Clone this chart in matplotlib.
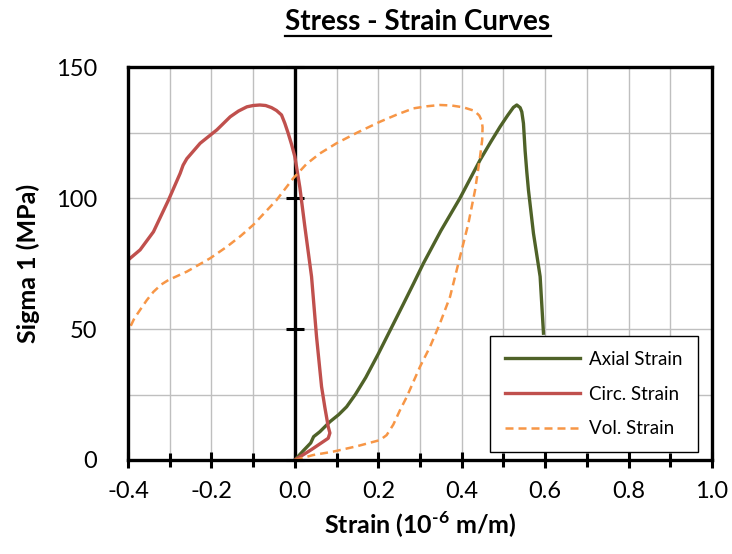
import matplotlib
matplotlib.use("Agg")
import matplotlib.pyplot as plt
from matplotlib.ticker import MultipleLocator
from matplotlib.lines import Line2D

plt.rcParams['font.family'] = ['Lato', 'DejaVu Sans']
plt.rcParams['mathtext.fontset'] = 'custom'
plt.rcParams['mathtext.rm'] = 'Lato'
plt.rcParams['mathtext.bf'] = 'Lato:bold'

# Axial strain (10^-6 m/m) vs Sigma 1 (MPa)
axial_strain = [0.0, 0.02, 0.038, 0.045, 0.06, 0.084, 0.105, 0.124, 0.145,
                0.17, 0.2, 0.23, 0.26, 0.285, 0.308, 0.35, 0.396, 0.444,
                0.47, 0.492, 0.51, 0.524, 0.532, 0.54, 0.544, 0.548, 0.552,
                0.556, 0.56, 0.572, 0.588, 0.596]
axial_stress = [0.0, 3.5, 6.5, 8.9, 10.8, 14.6, 17.3, 20.3, 25.0,
                31.5, 40.5, 50.0, 59.5, 67.5, 75.0, 87.5, 100.0, 114.5,
                121.5, 127.2, 131.5, 134.6, 135.5, 134.5, 132.9, 128.5, 118.0,
                110.0, 103.0, 86.5, 70.0, 48.4]

# Circumferential strain
circ_strain = [0.0, 0.04, 0.08, 0.084, 0.08, 0.072, 0.064, 0.052, 0.04, 0.024,
               0.012, 0.0, -0.008, -0.016, -0.024, -0.032, -0.044, -0.056,
               -0.07, -0.084, -0.1, -0.115, -0.135, -0.155, -0.187, -0.227,
               -0.259, -0.268, -0.275, -0.303, -0.339, -0.371, -0.4]
circ_stress = [0.0, 4.0, 8.3, 10.3, 12.7, 20.0, 28.0, 47.0, 70.0, 89.0,
               104.0, 115.8, 120.5, 124.7, 128.5, 131.7, 133.4, 134.5,
               135.3, 135.5, 135.3, 134.8, 133.2, 131.0, 126.0, 120.9,
               115.0, 112.5, 109.4, 99.2, 87.1, 80.2, 76.3]

# Volumetric strain
vol_strain = [0.0, 0.044, 0.092, 0.15, 0.204, 0.22, 0.236, 0.252, 0.268, 0.3,
              0.324, 0.348, 0.372, 0.396, 0.416, 0.432, 0.444, 0.449, 0.45,
              0.448, 0.442, 0.43, 0.404, 0.376, 0.348, 0.316, 0.284, 0.244,
              0.204, 0.15, 0.1, 0.06, 0.028, -0.004, -0.044, -0.1, -0.13,
              -0.163, -0.203, -0.259, -0.285, -0.303, -0.32, -0.339, -0.355,
              -0.371, -0.385, -0.4]
vol_stress = [0.0, 1.9, 3.2, 5.3, 7.6, 9.5, 13.5, 19.0, 24.0, 35.6,
              43.2, 52.2, 62.3, 77.6, 90.3, 103.0, 115.8, 122.0, 127.0,
              129.5, 131.5, 133.3, 134.6, 135.3, 135.5, 135.0, 134.2, 131.8,
              129.1, 125.0, 120.9, 117.0, 113.0, 107.5, 99.2, 89.7, 85.5,
              81.4, 77.0, 71.9, 70.0, 68.7, 67.0, 64.2, 61.0, 57.3, 54.0, 49.0]

x_ticks = [-0.4, -0.2, 0.0, 0.2, 0.4, 0.6, 0.8, 1.0]
y_ticks = [0, 50, 100, 150]

fig = plt.figure(figsize=(7.32, 5.54), dpi=100)
ax = fig.add_axes([128 / 732, 1 - 460 / 554, 584 / 732, 393 / 554])

ax.set_xlim(-0.4, 1.0)
ax.set_ylim(0, 150)
ax.set_xticks(x_ticks)
ax.set_xticklabels([f"{v:.1f}" for v in x_ticks])
ax.xaxis.set_minor_locator(MultipleLocator(0.1))
ax.set_yticks(y_ticks)
ax.set_yticklabels([str(v) for v in y_ticks])
ax.yaxis.set_minor_locator(MultipleLocator(25))

ax.grid(True, which='both', color='#BFBFBF', linewidth=1.0, zorder=0)
ax.set_axisbelow(True)

for s in ax.spines.values():
    s.set_linewidth(2.4)
    s.set_color('black')
    s.set_zorder(5)

ax.tick_params(axis='x', which='major', direction='inout', length=12, width=2.2,
               labelsize=17, pad=9, color='black')
ax.tick_params(axis='x', which='minor', direction='inout', length=10, width=2.2,
               color='black')
ax.tick_params(axis='y', which='both', length=0, labelsize=17, pad=22)

# Vertical value axis crossing at zero, with its tick marks
ax.axvline(0.0, color='black', linewidth=2.4, zorder=2)
ax.plot([0.0] * len(y_ticks), y_ticks, linestyle='none', marker='_',
        markersize=13, markeredgewidth=2.2, color='black', zorder=2,
        clip_on=False)

ax.plot(axial_strain, axial_stress, color='#4F6228', linewidth=2.4,
        label='Axial Strain', zorder=3, solid_joinstyle='round')
ax.plot(circ_strain, circ_stress, color='#C0504D', linewidth=2.4,
        label='Circ. Strain', zorder=3, solid_joinstyle='round')
ax.plot(vol_strain, vol_stress, color='#F79646', linewidth=1.8,
        dashes=(3.2, 2.0), label='Vol. Strain', zorder=3)

leg = ax.legend(loc='upper left', bbox_to_anchor=(0.62, 0.316),
                borderaxespad=0, fontsize=13.5, frameon=True, fancybox=False,
                edgecolor='black', framealpha=1.0, handlelength=4.0,
                labelspacing=0.95, borderpad=0.8, handletextpad=0.5)
leg.get_frame().set_linewidth(1.0)
leg.set_zorder(6)

ax.set_xlabel("Strain (10$^{\\mathbf{\u20106}}$ m/m)", fontsize=18,
              fontweight='bold', labelpad=6)
ax.set_ylabel("Sigma 1 (MPa)", fontsize=18, fontweight='bold', labelpad=12)

title = fig.text(418 / 732, 1 - 22 / 554, "Stress - Strain Curves",
                 fontsize=20, fontweight='bold', ha='center', va='center')

# Underline the title
fig.canvas.draw()
bb = title.get_window_extent(renderer=fig.canvas.get_renderer())
inv = fig.transFigure.inverted()
(x0, y0), (x1, y1) = inv.transform([[bb.x0, bb.y0], [bb.x1, bb.y1]])
fig.add_artist(Line2D([x0, x1], [y0 - 0.001, y0 - 0.001], color='black',
                      linewidth=1.6, transform=fig.transFigure))

fig.savefig("out.png", dpi=100)
